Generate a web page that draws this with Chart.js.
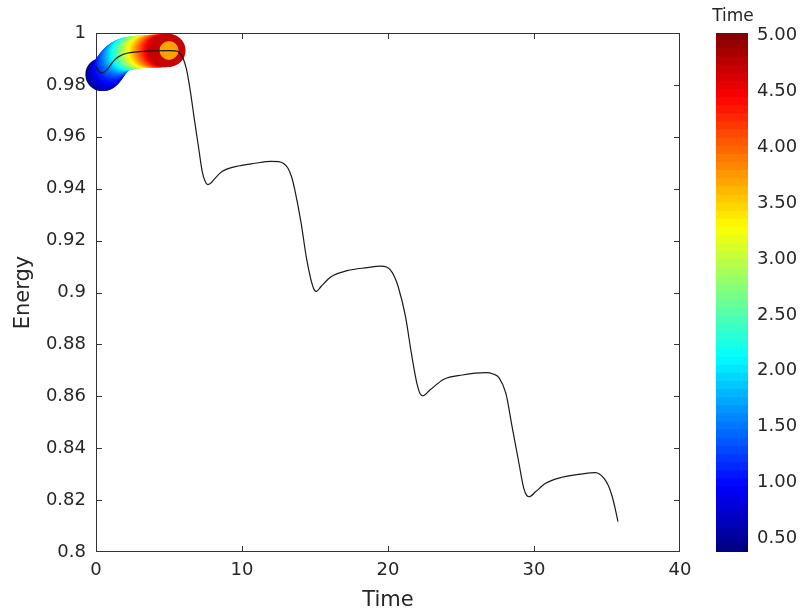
<!DOCTYPE html>
<html>
<head>
<meta charset="utf-8">
<script src="https://cdn.jsdelivr.net/npm/chart.js@4/dist/chart.umd.min.js"></script>
<style>
  html, body { margin: 0; padding: 0; background: #fff; }
  #wrap { position: relative; width: 803px; height: 613px; }
  #main { position: absolute; left: 0; top: 0; }
  #cbar { position: absolute; left: 690px; top: 0; }
</style>
</head>
<body>
<div id="wrap">
  <canvas id="main" width="700" height="613"></canvas>
  <canvas id="cbar" width="113" height="613"></canvas>
</div>
<script>
// energy curve
const LINE_T = [0, 0.15, 0.3, 0.5, 0.8, 1.1, 1.4, 1.8, 2.2, 3.0, 4.0, 5.0, 5.4, 5.7, 5.95, 6.2, 6.45, 6.71, 7.05, 7.28, 7.48, 7.65, 7.85, 8.18, 8.63, 9.54, 10.9, 12.0, 12.5, 12.85, 13.15, 13.4, 13.6, 14.05, 14.4, 14.73, 14.95, 15.1, 15.4, 16.1, 17.2, 18.58, 19.5, 19.9, 20.16, 20.45, 20.7, 21.2, 21.6, 21.96, 22.2, 22.4, 22.87, 23.8, 25.1, 26.7, 27.2, 27.6, 28.07, 28.5, 28.97, 29.3, 29.5, 29.68, 30.1, 30.8, 31.9, 33.3, 34.2, 34.5, 34.8, 35.1, 35.35, 35.55, 35.75];
const LINE_E = [0.9872, 0.9855, 0.9846, 0.9848, 0.9862, 0.9885, 0.9903, 0.9916, 0.9923, 0.9928, 0.9931, 0.9932, 0.9931, 0.9925, 0.9905, 0.9860, 0.9780, 0.9678, 0.9549, 0.9465, 0.9428, 0.9416, 0.9421, 0.9442, 0.9466, 0.9485, 0.9498, 0.9505, 0.9504, 0.9497, 0.9479, 0.9445, 0.9400, 0.9267, 0.9138, 0.9048, 0.9010, 0.9004, 0.9022, 0.9061, 0.9084, 0.9096, 0.9102, 0.9098, 0.9087, 0.9060, 0.9022, 0.8907, 0.8766, 0.8655, 0.8610, 0.8602, 0.8624, 0.8665, 0.8682, 0.8691, 0.8686, 0.8672, 0.8612, 0.8483, 0.8342, 0.8245, 0.8218, 0.8213, 0.8232, 0.8265, 0.8288, 0.8301, 0.8306, 0.8300, 0.8284, 0.8255, 0.8215, 0.8170, 0.8117];

// coloured markers (colour = time)
const MARK_T = [0.4, 0.5, 0.6, 0.7, 0.8, 0.9, 1.0, 1.1, 1.2, 1.3, 1.4, 1.5, 1.6, 1.7, 1.8, 1.9, 2.0, 2.1, 2.2, 2.3, 2.4, 2.5, 2.6, 2.7, 2.8, 2.9, 3.0, 3.1, 3.2, 3.3, 3.4, 3.5, 3.6, 3.7, 3.8, 3.9, 4.0, 4.1, 4.2, 4.3, 4.4, 4.5, 4.6, 4.7, 4.8, 4.9, 5.0];
const MARK_E = [0.9840, 0.9840, 0.9842, 0.9847, 0.9854, 0.9862, 0.9870, 0.9878, 0.9886, 0.9892, 0.9898, 0.9903, 0.9907, 0.9910, 0.9913, 0.9916, 0.9918, 0.9920, 0.9921, 0.9922, 0.9923, 0.9924, 0.9925, 0.9926, 0.9926, 0.9927, 0.9927, 0.9928, 0.9928, 0.9928, 0.9929, 0.9929, 0.9929, 0.9930, 0.9930, 0.9930, 0.9930, 0.9931, 0.9931, 0.9931, 0.9931, 0.9932, 0.9932, 0.9932, 0.9932, 0.9933, 0.9933];

const X_TICKS = [0, 10, 20, 30, 40];
const Y_TICKS = [0.8, 0.82, 0.84, 0.86, 0.88, 0.9, 0.92, 0.94, 0.96, 0.98, 1];
const CB_TICKS = [0.5, 1, 1.5, 2, 2.5, 3, 3.5, 4, 4.5, 5];
const CB_MIN = 0.38, CB_MAX = 5.02, CB_LEVELS = 64;

const FONT = 'DejaVu Sans';
const INK = '#262626';

function jet(v) {
  const c = x => Math.round(255 * Math.min(1, Math.max(0, x)));
  return `rgb(${c(1.5 - Math.abs(4 * v - 3))},${c(1.5 - Math.abs(4 * v - 2))},${c(1.5 - Math.abs(4 * v - 1))})`;
}
const norm = t => (t - CB_MIN) / (CB_MAX - CB_MIN);

// box + inward ticks, drawn under the data
const frame = {
  id: 'frame',
  beforeDatasetsDraw(chart, args, o) {
    const { ctx, chartArea: a, scales } = chart;
    ctx.save();
    ctx.strokeStyle = o.color;
    ctx.lineWidth = 1;
    ctx.strokeRect(a.left + .5, a.top + .5, a.width - 1, a.height - 1);
    ctx.beginPath();
    const L = o.len;
    if (o.x) for (const t of scales.x.ticks) {
      const px = Math.round(scales.x.getPixelForValue(t.value)) + .5;
      if (px < a.left + 2 || px > a.right - 2) continue;
      ctx.moveTo(px, a.bottom); ctx.lineTo(px, a.bottom - L);
      ctx.moveTo(px, a.top); ctx.lineTo(px, a.top + L);
    }
    for (const t of scales.y.ticks) {
      const py = Math.round(scales.y.getPixelForValue(t.value)) + .5;
      if (py < a.top + 2 || py > a.bottom - 2) continue;
      if (o.left) { ctx.moveTo(a.left, py); ctx.lineTo(a.left + L, py); }
      ctx.moveTo(a.right, py); ctx.lineTo(a.right - L, py);
    }
    ctx.stroke();
    ctx.restore();
  }
};

// colour bar heading, centred over the bar
const cbTitle = {
  id: 'cbTitle',
  afterDraw(chart, args, o) {
    const { ctx, chartArea: a } = chart;
    ctx.save();
    ctx.fillStyle = INK;
    ctx.font = `17px "${FONT}"`;
    ctx.textAlign = 'center';
    ctx.textBaseline = 'middle';
    ctx.fillText(o.text, (a.left + a.right) / 2 + 1, 17);
    ctx.restore();
  }
};

new Chart(document.getElementById('main'), {
  type: 'scatter',
  data: {
    datasets: [
      {
        label: 'Energy',
        data: LINE_T.map((t, i) => ({ x: t, y: LINE_E[i] })),
        showLine: true,
        borderColor: '#1a1a1a',
        borderWidth: 1.2,
        pointRadius: 0,
        cubicInterpolationMode: 'monotone',
        order: 0,
      },
      {
        label: 'Time',
        data: MARK_T.map((t, i) => ({ x: t, y: MARK_E[i] })),
        pointRadius: 13,
        pointBorderWidth: 7,
        pointBorderColor: MARK_T.map(t => jet(Math.min(norm(t), 0.93))),
        pointBackgroundColor: MARK_T.map(t => jet(Math.max(0, norm(t) - 0.28))),
        clip: false,
        order: 1,
      },
    ],
  },
  options: {
    responsive: false,
    animation: false,
    layout: { padding: { top: 33, right: 14, left: 0, bottom: 0 } },
    plugins: {
      legend: { display: false },
      tooltip: { enabled: false },
      frame: { color: '#333', len: 6, x: true, left: true },
    },
    scales: {
      x: {
        type: 'linear', min: 0, max: 40,
        afterBuildTicks: s => { s.ticks = X_TICKS.map(v => ({ value: v })); },
        afterFit: s => { s.height = 61; },
        ticks: { color: INK, padding: 8, maxRotation: 0, font: { family: FONT, size: 18 } },
        grid: { display: false, drawTicks: false },
        border: { display: false },
        title: { display: true, text: 'Time', color: INK, padding: { top: 0, bottom: 0 }, font: { family: FONT, size: 21 } },
      },
      y: {
        type: 'linear', min: 0.8, max: 1,
        afterBuildTicks: s => { s.ticks = Y_TICKS.map(v => ({ value: v })); },
        afterFit: s => { s.width = 96; },
        ticks: { color: INK, padding: 10, callback: v => String(+v.toFixed(2)), font: { family: FONT, size: 18 } },
        grid: { display: false, drawTicks: false },
        border: { display: false },
        title: { display: true, text: 'Energy', color: INK, padding: { top: 11, bottom: 0 }, font: { family: FONT, size: 21 } },
      },
    },
  },
  plugins: [frame],
});

// colour bar: one floating bar per jet level
const step = (CB_MAX - CB_MIN) / CB_LEVELS;
const bands = [];
for (let i = 0; i < CB_LEVELS; i++) {
  const lo = CB_MIN + i * step;
  bands.push({
    data: [[lo, Math.min(CB_MAX, lo + step * 1.05)]],
    backgroundColor: jet((i + 0.5) / CB_LEVELS),
    borderWidth: 0,
    grouped: false,
    barPercentage: 1,
    categoryPercentage: 1,
  });
}

new Chart(document.getElementById('cbar'), {
  type: 'bar',
  data: { labels: [''], datasets: bands },
  options: {
    responsive: false,
    animation: false,
    layout: { padding: { left: 26, right: 0, top: 33, bottom: 61 } },
    plugins: {
      legend: { display: false },
      tooltip: { enabled: false },
      frame: { color: '#333', len: 5, x: false, left: false },
      cbTitle: { text: 'Time' },
    },
    scales: {
      x: { display: false },
      y: {
        position: 'right', min: CB_MIN, max: CB_MAX,
        afterBuildTicks: s => { s.ticks = CB_TICKS.map(v => ({ value: v })); },
        afterFit: s => { s.width = 55; },
        ticks: { color: INK, padding: 9, callback: v => v.toFixed(2), font: { family: FONT, size: 18 } },
        grid: { display: false, drawTicks: false },
        border: { display: false },
      },
    },
  },
  plugins: [frame, cbTitle],
});
</script>
</body>
</html>
